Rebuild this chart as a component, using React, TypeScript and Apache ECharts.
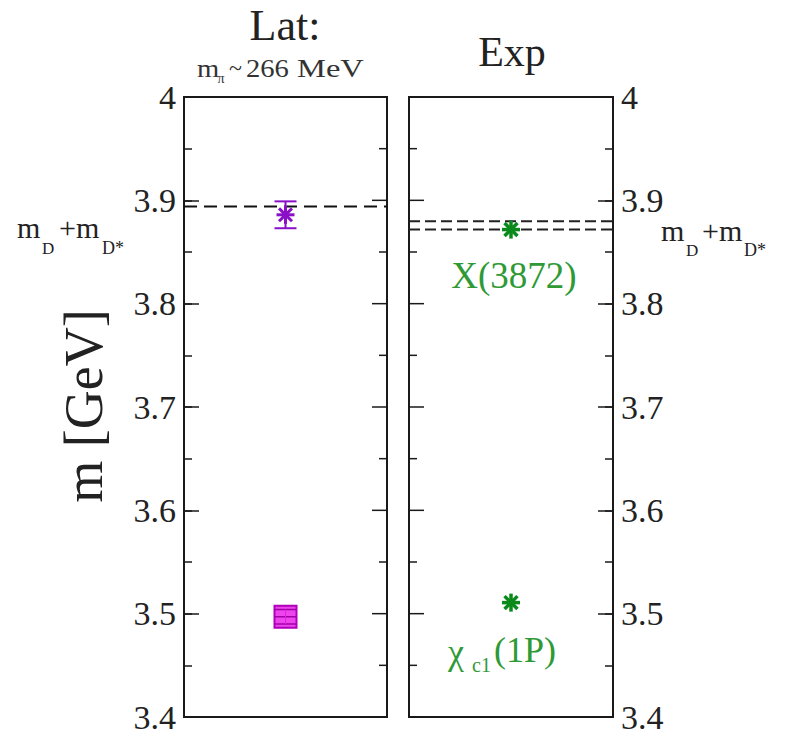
import React, { useEffect, useRef } from "react";
import * as echarts from "echarts";

// Lattice results (GeV): value and statistical error
const latNames = ["X(3872)", "chi_c1(1P)"];
const latValues = [3.886, 3.497];
const latErrors = [0.013, 0.007];
const latSymbols = ["star", "square"];
const latThreshold = [3.894];

// Experimental masses (GeV)
const expNames = ["X(3872)", "χc1(1P)"];
const expValues = [3.8717, 3.5107];
const expThresholds = [3.8717, 3.8797];

const yTicks = ["3.4", "3.5", "3.6", "3.7", "3.8", "3.9", "4"];
const majorTicks = [3.4, 3.5, 3.6, 3.7, 3.8, 3.9, 4.0];
const minorTicks = [3.45, 3.55, 3.65, 3.75, 3.85, 3.95];

const FONT = "Liberation Serif, Times New Roman, DejaVu Serif, serif";
const AX = "#1a1a1a";

function txt(x: number, y: number, text: string, size: number, fill: string, align = "left", extra: any = {}) {
  return {
    type: "text",
    x,
    y,
    ...extra,
    style: { text, fontFamily: FONT, fontSize: size, fill, align, verticalAlign: "middle" },
  };
}

function asterisk(cx: number, cy: number, r: number, color: string, lw: number) {
  const d = r * 0.72;
  const seg = (x1: number, y1: number, x2: number, y2: number) => ({
    type: "line",
    shape: { x1, y1, x2, y2 },
    style: { stroke: color, lineWidth: lw },
  });
  return [
    seg(cx - r, cy, cx + r, cy),
    seg(cx, cy - r, cx, cy + r),
    seg(cx - d, cy - d, cx + d, cy + d),
    seg(cx - d, cy + d, cx + d, cy - d),
  ];
}

// Outer y axis with inward ticks; optional tick labels.
function yAxis(gridIndex: number, side: "left" | "right", interval: number, tickLen: number, labels: boolean) {
  return {
    type: "value",
    gridIndex,
    position: side,
    min: 3.4,
    max: 4,
    interval,
    axisLine: { show: false, onZero: false },
    axisTick: { show: true, inside: true, length: tickLen, lineStyle: { color: AX, width: 1.5 } },
    minorTick: { show: false },
    splitLine: { show: false },
    axisLabel: labels
      ? {
          show: true,
          margin: 8,
          fontFamily: FONT,
          fontSize: 34,
          color: "#222",
          formatter: (v: number) => {
            const s = (Math.round(v * 10) / 10).toString();
            return yTicks.includes(s) ? s : "";
          },
        }
      : { show: false },
  };
}

function xAxis(gridIndex: number) {
  return { type: "value", gridIndex, min: 0, max: 1, show: false, axisLine: { show: false, onZero: false } };
}

// Ticks on the inner edge of a panel (x = edge, pointing dir)
function innerTicks(gridIndex: number, yIndex: number, edge: number, dir: number) {
  const data = [...majorTicks.map((v) => [edge, v, 15]), ...minorTicks.map((v) => [edge, v, 8])];
  return {
    type: "custom",
    xAxisIndex: gridIndex,
    yAxisIndex: yIndex,
    data,
    silent: true,
    clip: false,
    renderItem: (_p: any, api: any) => {
      const [x, y] = api.coord([api.value(0), api.value(1)]);
      const len = api.value(2);
      return {
        type: "line",
        shape: { x1: x, y1: y, x2: x + dir * len, y2: y },
        style: { stroke: AX, lineWidth: 1.5 },
      };
    },
    z: 3,
  };
}

export default function App() {
  const ref = useRef<HTMLDivElement>(null);

  useEffect(() => {
    document.body.style.margin = "0";
    if (!ref.current) return;
    const chart = echarts.init(ref.current, null, { renderer: "svg" });

    const latData = latValues.map((v, i) => [0.5, v, latErrors[i], latSymbols[i], latNames[i]]);
    const expData = expValues.map((v, i) => [0.5, v, 0, "star", expNames[i]]);

    const option: any = {
      animation: false,
      backgroundColor: "#ffffff",
      grid: [
        { left: 184, top: 97, width: 203, height: 620, show: true, borderColor: AX, borderWidth: 2, backgroundColor: "transparent" },
        { left: 409, top: 97, width: 204, height: 620, show: true, borderColor: AX, borderWidth: 2, backgroundColor: "transparent" },
      ],
      xAxis: [xAxis(0), xAxis(1)],
      yAxis: [
        yAxis(0, "left", 0.1, 15, true), // 0
        yAxis(0, "left", 0.05, 8, false), // 1
        yAxis(1, "right", 0.1, 15, true), // 2
        yAxis(1, "right", 0.05, 8, false), // 3
      ],
      series: [
        innerTicks(0, 0, 1, -1),
        innerTicks(1, 2, 0, 1),
        {
          type: "line",
          xAxisIndex: 0,
          yAxisIndex: 0,
          data: [[0, latThreshold[0]], [1, latThreshold[0]]],
          symbol: "none",
          lineStyle: { color: "#111", width: 2, type: [13, 7] },
          silent: true,
        },
        ...expThresholds.map((t) => ({
          type: "line",
          xAxisIndex: 1,
          yAxisIndex: 2,
          data: [[0, t], [1, t]],
          symbol: "none",
          lineStyle: { color: "#222", width: 2, type: [11, 5] },
          silent: true,
        })),
        {
          type: "custom",
          xAxisIndex: 0,
          yAxisIndex: 0,
          data: latData,
          renderItem: (params: any, api: any) => {
            const x = api.value(0);
            const v = api.value(1);
            const e = api.value(2);
            const kind = latSymbols[params.dataIndex];
            const [cx, cy] = api.coord([x, v]);
            const top = api.coord([x, v + e])[1];
            const bot = api.coord([x, v - e])[1];
            if (kind === "star") {
              const col = "#8a10c8";
              return {
                type: "group",
                children: [
                  { type: "line", shape: { x1: cx, y1: top, x2: cx, y2: bot }, style: { stroke: col, lineWidth: 2 } },
                  { type: "line", shape: { x1: cx - 11, y1: top, x2: cx + 11, y2: top }, style: { stroke: col, lineWidth: 2 } },
                  { type: "line", shape: { x1: cx - 11, y1: bot, x2: cx + 11, y2: bot }, style: { stroke: col, lineWidth: 2 } },
                  ...asterisk(cx, cy, 9, col, 3),
                ],
              };
            }
            const col = "#e020e0";
            const h = 11;
            return {
              type: "group",
              children: [
                { type: "rect", shape: { x: cx - h, y: cy - h, width: 2 * h, height: 2 * h }, style: { fill: "#ee44ee", stroke: "#b000b8", lineWidth: 2 } },
                { type: "line", shape: { x1: cx - h, y1: top, x2: cx + h, y2: top }, style: { stroke: "#a000a8", lineWidth: 1.5 } },
                { type: "line", shape: { x1: cx - h, y1: cy, x2: cx + h, y2: cy }, style: { stroke: "#a000a8", lineWidth: 1.5 } },
                { type: "line", shape: { x1: cx - h, y1: bot, x2: cx + h, y2: bot }, style: { stroke: "#a000a8", lineWidth: 1.5 } },
                { type: "line", shape: { x1: cx, y1: top, x2: cx, y2: bot }, style: { stroke: col, lineWidth: 1 } },
              ],
            };
          },
          z: 5,
        },
        {
          type: "custom",
          xAxisIndex: 1,
          yAxisIndex: 2,
          data: expData,
          renderItem: (params: any, api: any) => {
            const [cx, cy] = api.coord([api.value(0), api.value(1)]);
            return { type: "group", children: asterisk(cx, cy, 9, "#0a8a1a", 3.5) };
          },
          z: 5,
        },
      ],
      graphic: [
        txt(285, 25, "Lat:", 44, "#222", "center"),
        txt(208, 68, "m", 26, "#333", "center", { scaleX: 1.1 }),
        txt(221, 78, "π", 14, "#333", "center"),
        txt(229, 68, "~", 24, "#333"),
        txt(246, 68, "266", 26, "#333", "left", { scaleX: 1.1 }),
        txt(297, 68, "MeV", 26, "#333", "left", { scaleX: 1.25 }),
        txt(512, 52, "Exp", 42, "#222", "center"),
        txt(84, 406, "m [GeV]", 54, "#222", "center", { rotation: Math.PI / 2 }),
        // threshold label, left
        txt(17, 227, "m", 30, "#222"),
        txt(42, 248, "D", 17, "#222"),
        txt(59, 227, "+m", 30, "#222"),
        txt(102, 248, "D*", 18, "#222"),
        // threshold label, right
        txt(661, 230, "m", 30, "#222"),
        txt(686, 250, "D", 17, "#222"),
        txt(702, 230, "+m", 30, "#222"),
        txt(744, 250, "D*", 18, "#222"),
        // state labels
        txt(514, 275, "X(3872)", 37, "#2f9a35", "center"),
        txt(448, 652, "χ", 36, "#2f9a35"),
        txt(472, 665, "c1", 20, "#2f9a35"),
        txt(494, 650, "(1P)", 36, "#2f9a35"),
      ],
    };

    chart.setOption(option);
    return () => chart.dispose();
  }, []);

  return <div ref={ref} style={{ width: 794, height: 734 }} />;
}
